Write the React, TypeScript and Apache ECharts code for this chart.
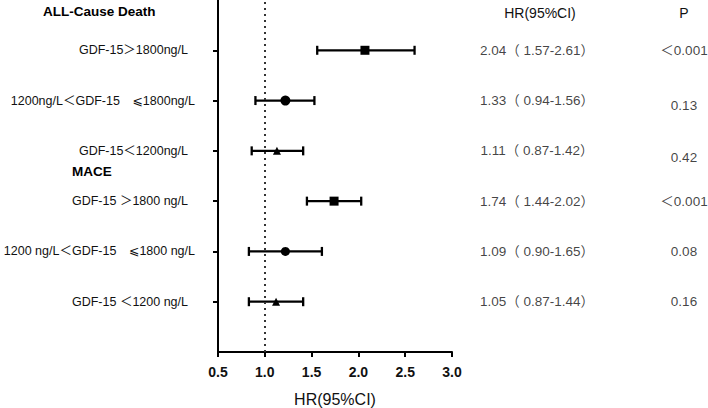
import React, { useEffect, useRef } from "react";
import * as echarts from "echarts";

// Rows, top to bottom
const rowLabels = [
  "GDF-15＞1800ng/L",
  "1200ng/L＜GDF-15　⩽1800ng/L",
  "GDF-15＜1200ng/L",
  "GDF-15 ＞1800 ng/L",
  "1200 ng/L＜GDF-15　⩽1800 ng/L",
  "GDF-15 ＜1200 ng/L",
];
const rowLabelPadRight = [7, 0, 7, 7, 0, 7];
const hrPoint = [2.07, 1.22, 1.13, 1.74, 1.22, 1.12];
const ciLow = [1.56, 0.9, 0.86, 1.45, 0.83, 0.83];
const ciHigh = [2.6, 1.53, 1.41, 2.03, 1.61, 1.41];
const markerShapes = ["rect", "circle", "triangle", "rect", "circle", "triangle"];
const markerSizes = [9, 10, 8, 9, 9, 8];
const hrText = [
  "2.04（ 1.57-2.61）",
  "1.33（ 0.94-1.56）",
  "1.11（ 0.87-1.42）",
  "1.74（ 1.44-2.02）",
  "1.09（ 0.90-1.65）",
  "1.05（ 0.87-1.44）",
];
const pText = ["＜0.001", "0.13", "0.42", "＜0.001", "0.08", "0.16"];
const pOffsetY = [0, 5, 7, 0, 0, 0];
const sectionTitles = ["ALL-Cause Death", "MACE"];
const columnTitles = ["HR(95%CI)", "P"];
const axisTitle = "HR(95%CI)";
const refValue = 1.0;

const FONT = "'Liberation Sans', Arial, 'Noto Sans CJK SC', 'DejaVu Sans', sans-serif";
const TEXT = "#111";

export default function App() {
  const ref = useRef<HTMLDivElement>(null);
  useEffect(() => {
    document.body.style.margin = "0";
    const chart = echarts.init(ref.current!, undefined, { renderer: "svg" });
    const n = rowLabels.length;
    // category index 0 = bottom padding, n+1 = top padding
    const rowItems = rowLabels.map((t, i) => ({
      value: t,
      textStyle: { padding: [0, rowLabelPadRight[i], 0, 0] },
    }));
    const cats = ["", ...rowItems.slice().reverse(), ""];
    const plainCats = ["", ...rowLabels.slice().reverse(), ""];
    const idx = (i: number) => n - i;

    const option: any = {
      animation: false,
      textStyle: { fontFamily: FONT },
      grid: [
        { left: 218, top: 0, width: 234, height: 352, containLabel: false, outerBoundsMode: "none" },
        { left: 537, top: 0, width: 147, height: 352, containLabel: false, outerBoundsMode: "none" },
      ],
      xAxis: [
        {
          gridIndex: 0,
          type: "value",
          min: 0.5,
          max: 3,
          interval: 0.5,
          splitLine: { show: false },
          axisLine: { show: true, onZero: false, lineStyle: { color: "#000", width: 2 } },
          axisTick: { show: true, length: 5, lineStyle: { color: "#000", width: 2 } },
          axisLabel: {
            color: TEXT,
            fontSize: 14,
            fontWeight: "bold",
            margin: 13,
            fontFamily: FONT,
            formatter: (v: number) => v.toFixed(1),
          },
          name: axisTitle,
          nameLocation: "middle",
          nameGap: 39,
          nameTextStyle: { color: TEXT, fontSize: 16, fontFamily: FONT, verticalAlign: "top" },
        },
        { gridIndex: 1, type: "value", min: 0, max: 1, show: false },
      ],
      yAxis: [
        {
          gridIndex: 0,
          type: "category",
          data: cats,
          boundaryGap: false,
          axisLine: { show: true, onZero: false, lineStyle: { color: "#000", width: 2 } },
          axisTick: {
            show: true,
            length: 5,
            interval: (i: number) => i > 0 && i <= n,
            lineStyle: { color: "#000", width: 2 },
          },
          axisLabel: {
            color: TEXT,
            fontSize: 12.5,
            margin: 23,
            fontFamily: FONT,
            interval: (i: number) => i > 0 && i <= n,
          },
          splitLine: { show: false },
        },
        { gridIndex: 1, type: "category", data: plainCats, boundaryGap: false, show: false },
      ],
      series: [
        {
          type: "custom",
          xAxisIndex: 0,
          yAxisIndex: 0,
          data: rowLabels.map((_, i) => [ciLow[i], ciHigh[i], idx(i)]),
          renderItem: (params: any, api: any) => {
            const y = api.value(2);
            const p1 = api.coord([api.value(0), y]);
            const p2 = api.coord([api.value(1), y]);
            const h = 4.5;
            const st = { stroke: "#000", lineWidth: 2.3 };
            return {
              type: "group",
              children: [
                { type: "line", shape: { x1: p1[0], y1: p1[1], x2: p2[0], y2: p2[1] }, style: st },
                { type: "line", shape: { x1: p1[0], y1: p1[1] - h, x2: p1[0], y2: p1[1] + h }, style: st },
                { type: "line", shape: { x1: p2[0], y1: p2[1] - h, x2: p2[0], y2: p2[1] + h }, style: st },
              ],
            };
          },
          z: 3,
        },
        {
          type: "scatter",
          xAxisIndex: 0,
          yAxisIndex: 0,
          data: rowLabels.map((_, i) => ({
            value: [hrPoint[i], idx(i)],
            symbol: markerShapes[i],
            symbolSize: markerSizes[i],
          })),
          itemStyle: { color: "#000", opacity: 1 },
          z: 4,
          markLine: {
            silent: true,
            symbol: "none",
            label: { show: false },
            lineStyle: { color: "#333", width: 2, type: [2, 4], cap: "butt" },
            data: [{ xAxis: refValue }],
          },
        },
        {
          type: "scatter",
          xAxisIndex: 1,
          yAxisIndex: 1,
          symbolSize: 0,
          data: [
            ...rowLabels.map((_, i) => ({ value: [0, idx(i)], name: hrText[i] })),
            ...rowLabels.map((_, i) => ({
              value: [1, idx(i)],
              name: pText[i],
              label: { offset: [0, pOffsetY[i]] },
            })),
          ],
          label: {
            show: true,
            position: "inside",
            formatter: (p: any) => p.name,
            color: TEXT,
            fontSize: 13.5,
            fontFamily: FONT,
          },
          silent: true,
        },
      ],
      graphic: [
        {
          type: "text",
          left: 43,
          top: 5,
          style: { text: sectionTitles[0], fill: "#000", font: `bold 13.5px ${FONT}` },
        },
        {
          type: "text",
          left: 72,
          top: 165,
          style: { text: sectionTitles[1], fill: "#000", font: `bold 13.5px ${FONT}` },
        },
        {
          type: "text",
          x: 540,
          y: 13,
          style: {
            text: columnTitles[0],
            fill: TEXT,
            font: `14px ${FONT}`,
            align: "center",
            verticalAlign: "middle",
          },
        },
        {
          type: "text",
          x: 684,
          y: 13,
          style: {
            text: columnTitles[1],
            fill: TEXT,
            font: `14px ${FONT}`,
            align: "center",
            verticalAlign: "middle",
          },
        },
      ],
    };
    chart.setOption(option);
    return () => chart.dispose();
  }, []);
  return <div ref={ref} style={{ width: 708, height: 408 }} />;
}
